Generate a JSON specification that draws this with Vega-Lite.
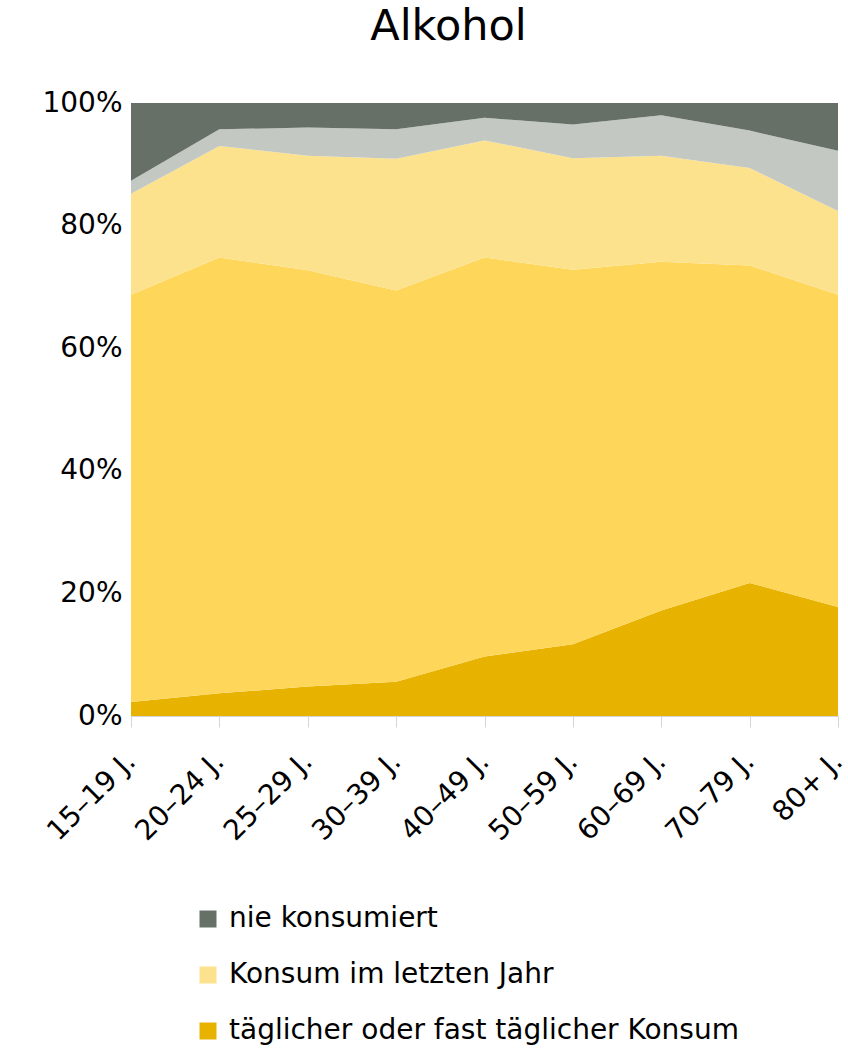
{
  "$schema": "https://vega.github.io/schema/vega-lite/v6.json",
  "autosize": "none",
  "width": 707,
  "height": 613,
  "padding": {"left": 131, "top": 103, "right": 10, "bottom": 332},
  "background": "white",
  "config": {"font": "DejaVu Sans", "view": {"stroke": null}},
  "title": {"text": "Alkohol", "fontSize": 43, "fontWeight": "normal", "color": "#000000", "anchor": "middle", "frame": "group", "dx": -36, "offset": 40},
  "data": {"values": [
    {"age": "15–19 J.", "cat": "täglicher oder fast täglicher Konsum", "k": 1, "v": 2.3},
    {"age": "20–24 J.", "cat": "täglicher oder fast täglicher Konsum", "k": 1, "v": 3.7},
    {"age": "25–29 J.", "cat": "täglicher oder fast täglicher Konsum", "k": 1, "v": 4.8},
    {"age": "30–39 J.", "cat": "täglicher oder fast täglicher Konsum", "k": 1, "v": 5.6},
    {"age": "40–49 J.", "cat": "täglicher oder fast täglicher Konsum", "k": 1, "v": 9.7},
    {"age": "50–59 J.", "cat": "täglicher oder fast täglicher Konsum", "k": 1, "v": 11.7},
    {"age": "60–69 J.", "cat": "täglicher oder fast täglicher Konsum", "k": 1, "v": 17.2},
    {"age": "70–79 J.", "cat": "täglicher oder fast täglicher Konsum", "k": 1, "v": 21.7},
    {"age": "80+ J.", "cat": "täglicher oder fast täglicher Konsum", "k": 1, "v": 17.8},
    {"age": "15–19 J.", "cat": "Konsum im letzten Monat", "k": 2, "v": 66.4},
    {"age": "20–24 J.", "cat": "Konsum im letzten Monat", "k": 2, "v": 71.1},
    {"age": "25–29 J.", "cat": "Konsum im letzten Monat", "k": 2, "v": 67.9},
    {"age": "30–39 J.", "cat": "Konsum im letzten Monat", "k": 2, "v": 63.8},
    {"age": "40–49 J.", "cat": "Konsum im letzten Monat", "k": 2, "v": 65.1},
    {"age": "50–59 J.", "cat": "Konsum im letzten Monat", "k": 2, "v": 61.1},
    {"age": "60–69 J.", "cat": "Konsum im letzten Monat", "k": 2, "v": 56.9},
    {"age": "70–79 J.", "cat": "Konsum im letzten Monat", "k": 2, "v": 51.8},
    {"age": "80+ J.", "cat": "Konsum im letzten Monat", "k": 2, "v": 50.9},
    {"age": "15–19 J.", "cat": "Konsum im letzten Jahr", "k": 3, "v": 16.5},
    {"age": "20–24 J.", "cat": "Konsum im letzten Jahr", "k": 3, "v": 18.2},
    {"age": "25–29 J.", "cat": "Konsum im letzten Jahr", "k": 3, "v": 18.7},
    {"age": "30–39 J.", "cat": "Konsum im letzten Jahr", "k": 3, "v": 21.5},
    {"age": "40–49 J.", "cat": "Konsum im letzten Jahr", "k": 3, "v": 19.1},
    {"age": "50–59 J.", "cat": "Konsum im letzten Jahr", "k": 3, "v": 18.2},
    {"age": "60–69 J.", "cat": "Konsum im letzten Jahr", "k": 3, "v": 17.3},
    {"age": "70–79 J.", "cat": "Konsum im letzten Jahr", "k": 3, "v": 15.9},
    {"age": "80+ J.", "cat": "Konsum im letzten Jahr", "k": 3, "v": 13.7},
    {"age": "15–19 J.", "cat": "früher konsumiert", "k": 4, "v": 2.1},
    {"age": "20–24 J.", "cat": "früher konsumiert", "k": 4, "v": 2.7},
    {"age": "25–29 J.", "cat": "früher konsumiert", "k": 4, "v": 4.6},
    {"age": "30–39 J.", "cat": "früher konsumiert", "k": 4, "v": 4.8},
    {"age": "40–49 J.", "cat": "früher konsumiert", "k": 4, "v": 3.7},
    {"age": "50–59 J.", "cat": "früher konsumiert", "k": 4, "v": 5.5},
    {"age": "60–69 J.", "cat": "früher konsumiert", "k": 4, "v": 6.6},
    {"age": "70–79 J.", "cat": "früher konsumiert", "k": 4, "v": 6.1},
    {"age": "80+ J.", "cat": "früher konsumiert", "k": 4, "v": 9.8},
    {"age": "15–19 J.", "cat": "nie konsumiert", "k": 5, "v": 12.7},
    {"age": "20–24 J.", "cat": "nie konsumiert", "k": 5, "v": 4.3},
    {"age": "25–29 J.", "cat": "nie konsumiert", "k": 5, "v": 4.0},
    {"age": "30–39 J.", "cat": "nie konsumiert", "k": 5, "v": 4.3},
    {"age": "40–49 J.", "cat": "nie konsumiert", "k": 5, "v": 2.4},
    {"age": "50–59 J.", "cat": "nie konsumiert", "k": 5, "v": 3.5},
    {"age": "60–69 J.", "cat": "nie konsumiert", "k": 5, "v": 2.0},
    {"age": "70–79 J.", "cat": "nie konsumiert", "k": 5, "v": 4.5},
    {"age": "80+ J.", "cat": "nie konsumiert", "k": 5, "v": 7.8}
  ]},
  "mark": {"type": "area", "interpolate": "linear", "strokeWidth": 0},
  "encoding": {
    "x": {
      "field": "age", "type": "ordinal",
      "sort": ["15–19 J.", "20–24 J.", "25–29 J.", "30–39 J.", "40–49 J.", "50–59 J.", "60–69 J.", "70–79 J.", "80+ J."],
      "scale": {"type": "point", "padding": 0},
      "axis": {"title": null, "labelAngle": -45, "labelAlign": "right", "labelBaseline": "middle", "labelFontSize": 28, "labelColor": "#000000", "labelPadding": 30, "labelDx": 10, "tickColor": "#d4d4d4", "tickSize": 11, "domainColor": "#d4d4d4", "labelFont": "DejaVu Sans", "labelOverlap": false}
    },
    "y": {
      "field": "v", "type": "quantitative", "stack": "zero",
      "scale": {"domain": [0, 100], "nice": false},
      "axis": {"title": null, "values": [0, 20, 40, 60, 80, 100], "labelExpr": "datum.value + '%'", "grid": false, "ticks": false, "domainColor": "#e6e6e6", "labelFontSize": 28, "labelColor": "#000000", "labelPadding": 9, "labelFont": "DejaVu Sans"}
    },
    "order": {"field": "k", "type": "quantitative", "sort": "ascending"},
    "color": {
      "field": "cat", "type": "nominal",
      "scale": {
        "domain": ["nie konsumiert", "früher konsumiert", "Konsum im letzten Jahr", "Konsum im letzten Monat", "täglicher oder fast täglicher Konsum"],
        "range": ["#677067", "#c3c8c3", "#fde28d", "#fed65a", "#e8b300"]
      },
      "legend": {
        "values": ["nie konsumiert", "Konsum im letzten Jahr", "täglicher oder fast täglicher Konsum"],
        "title": null, "orient": "none", "legendX": 63, "legendY": 802, "direction": "vertical",
        "symbolType": "square", "symbolSize": 289, "symbolStrokeWidth": 0, "symbolOpacity": 1,
        "labelFontSize": 28, "labelColor": "#000000", "labelOffset": 7, "rowPadding": 28, "labelLimit": 700, "labelFont": "DejaVu Sans"
      }
    }
  }
}
